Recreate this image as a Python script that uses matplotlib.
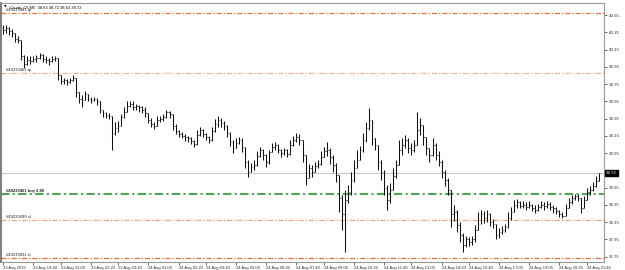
import numpy as np
import matplotlib
matplotlib.use("Agg")
import matplotlib.pyplot as plt

# Crude_Oil M5 bars, open = previous close
close = [
    40.38, 40.40, 40.36, 40.34, 40.27, 40.26, 40.08, 39.98, 40.03, 40.02,
    40.04, 40.05, 40.09, 40.04, 40.03, 40.02, 40.04, 40.05, 39.86, 39.79,
    39.80, 39.77, 39.80, 39.82, 39.66, 39.58, 39.57, 39.64, 39.58, 39.57,
    39.58, 39.55, 39.45, 39.41, 39.39, 39.38, 39.18, 39.24, 39.26, 39.37,
    39.43, 39.50, 39.52, 39.49, 39.50, 39.48, 39.45, 39.42, 39.33, 39.29,
    39.26, 39.33, 39.35, 39.37, 39.43, 39.40, 39.26, 39.21, 39.17, 39.15,
    39.14, 39.12, 39.09, 39.06, 39.16, 39.22, 39.17, 39.14, 39.10, 39.21,
    39.29, 39.33, 39.30, 39.26, 39.18, 39.08, 39.01, 39.07, 39.10, 39.02,
    38.85, 38.73, 38.79, 38.81, 38.92, 38.99, 38.93, 38.85, 38.96, 39.02,
    39.05, 38.99, 38.95, 38.99, 38.94, 39.05, 39.10, 39.14, 39.10, 38.93,
    38.66, 38.78, 38.73, 38.80, 38.83, 38.91, 38.97, 38.99, 38.90, 38.81,
    38.70, 38.43, 38.24, 38.41, 38.50, 38.64, 38.78, 38.87, 38.99, 39.10,
    39.24, 39.33, 39.13, 39.05, 38.85, 38.73, 38.55, 38.41, 38.52, 38.69,
    38.81, 38.99, 39.05, 39.10, 39.01, 38.99, 39.05, 39.22, 39.28, 39.14,
    39.01, 38.93, 39.05, 38.93, 38.85, 38.73, 38.64, 38.52, 38.24, 38.27,
    38.12, 38.00, 37.89, 37.95, 37.92, 37.96, 38.06, 38.18, 38.24, 38.20,
    38.25, 38.15, 38.13, 38.00, 38.04, 38.06, 38.10, 38.20, 38.27, 38.35,
    38.38, 38.34, 38.35, 38.33, 38.35, 38.31, 38.29, 38.33, 38.35, 38.34,
    38.36, 38.33, 38.31, 38.28, 38.25, 38.22, 38.31, 38.38, 38.43, 38.45,
    38.43, 38.31, 38.41, 38.50, 38.52, 38.57, 38.63, 38.72,
]
high = [
    40.43, 40.44, 40.41, 40.39, 40.32, 40.31, 40.26, 40.09, 40.08, 40.07,
    40.08, 40.09, 40.11, 40.10, 40.07, 40.05, 40.07, 40.08, 40.05, 39.85,
    39.82, 39.81, 39.82, 39.85, 39.82, 39.65, 39.62, 39.67, 39.62, 39.60,
    39.60, 39.59, 39.53, 39.45, 39.43, 39.42, 39.37, 39.31, 39.32, 39.40,
    39.48, 39.55, 39.56, 39.56, 39.52, 39.51, 39.50, 39.48, 39.42, 39.36,
    39.31, 39.38, 39.38, 39.40, 39.45, 39.44, 39.40, 39.29, 39.22, 39.20,
    39.17, 39.15, 39.14, 39.10, 39.22, 39.25, 39.23, 39.18, 39.15, 39.25,
    39.35, 39.38, 39.36, 39.32, 39.28, 39.20, 39.10, 39.12, 39.14, 39.12,
    39.02, 38.87, 38.84, 38.87, 38.97, 39.02, 39.00, 38.94, 38.99, 39.07,
    39.08, 39.06, 39.00, 39.01, 39.00, 39.10, 39.15, 39.18, 39.17, 39.10,
    38.93, 38.83, 38.81, 38.85, 38.87, 38.97, 39.02, 39.08, 39.01, 38.93,
    38.84, 38.70, 38.47, 38.52, 38.58, 38.73, 38.87, 38.99, 39.03, 39.18,
    39.31, 39.47, 39.28, 39.13, 39.05, 38.87, 38.76, 38.58, 38.60, 38.78,
    38.87, 39.10, 39.13, 39.16, 39.13, 39.07, 39.10, 39.43, 39.36, 39.24,
    39.10, 39.01, 39.13, 39.07, 38.97, 38.87, 38.76, 38.66, 38.52, 38.35,
    38.29, 38.15, 38.02, 37.99, 37.98, 37.99, 38.12, 38.27, 38.29, 38.28,
    38.29, 38.26, 38.19, 38.13, 38.08, 38.11, 38.13, 38.27, 38.33, 38.41,
    38.42, 38.39, 38.39, 38.38, 38.39, 38.36, 38.35, 38.36, 38.39, 38.38,
    38.40, 38.38, 38.35, 38.33, 38.29, 38.27, 38.36, 38.43, 38.47, 38.48,
    38.48, 38.43, 38.45, 38.55, 38.57, 38.62, 38.68, 38.72,
]
low = [
    40.33, 40.34, 40.32, 40.30, 40.24, 40.23, 40.03, 39.94, 39.97, 39.98,
    40.01, 40.01, 40.04, 40.01, 39.99, 39.97, 40.01, 40.02, 39.80, 39.75,
    39.75, 39.74, 39.76, 39.79, 39.60, 39.53, 39.49, 39.58, 39.55, 39.53,
    39.55, 39.51, 39.42, 39.37, 39.36, 39.35, 38.99, 39.16, 39.19, 39.29,
    39.36, 39.45, 39.48, 39.45, 39.45, 39.43, 39.42, 39.37, 39.30, 39.25,
    39.23, 39.28, 39.31, 39.32, 39.36, 39.36, 39.22, 39.17, 39.14, 39.12,
    39.09, 39.08, 39.06, 39.02, 39.05, 39.15, 39.14, 39.10, 39.07, 39.09,
    39.20, 39.25, 39.25, 39.22, 39.14, 39.03, 38.95, 39.02, 39.06, 38.96,
    38.78, 38.67, 38.73, 38.76, 38.80, 38.90, 38.87, 38.79, 38.83, 38.96,
    38.99, 38.95, 38.91, 38.93, 38.91, 38.93, 39.03, 39.08, 39.05, 38.85,
    38.58, 38.69, 38.67, 38.73, 38.78, 38.81, 38.90, 38.92, 38.83, 38.73,
    38.62, 38.27, 38.06, 37.81, 38.37, 38.47, 38.62, 38.78, 38.87, 38.96,
    39.08, 39.22, 39.05, 38.99, 38.76, 38.64, 38.47, 38.29, 38.37, 38.55,
    38.66, 38.85, 38.93, 39.01, 38.95, 38.93, 38.96, 39.08, 39.16, 39.05,
    38.93, 38.85, 38.92, 38.87, 38.80, 38.66, 38.57, 38.47, 38.10, 38.16,
    38.04, 37.92, 37.81, 37.86, 37.87, 37.89, 37.92, 38.06, 38.13, 38.14,
    38.15, 38.11, 38.08, 37.95, 37.97, 38.01, 38.04, 38.08, 38.18, 38.27,
    38.32, 38.31, 38.31, 38.29, 38.31, 38.28, 38.26, 38.28, 38.31, 38.29,
    38.32, 38.29, 38.26, 38.24, 38.21, 38.20, 38.24, 38.31, 38.36, 38.41,
    38.39, 38.26, 38.31, 38.43, 38.47, 38.51, 38.56, 38.63,
]
first_open = 40.41

# trade levels drawn on the chart
order_levels = [40.57, 39.88, 38.48, 38.17, 37.73]
order_labels = ["#49233931 tp", "#49233461 tp", "#49233461 buy 0.80",
                "#49233699 sl", "#49233831 sl"]
order_colors = ["#f2703c", "#fbb08e", "#4ea64e", "#f9a07c", "#ee6a36"]

price_ticks = [40.55, 40.35, 40.15, 39.95, 39.75, 39.55, 39.35, 39.15,
               38.95, 38.55, 38.35, 38.15, 37.95, 37.75]

time_ticks = [0, 10, 19, 29, 38, 48, 58, 67, 77, 87, 97, 106, 116, 126,
              135, 145, 154, 164, 174, 184, 193]
time_labels = ["23 Aug 2015", "23 Aug 19:40", "23 Aug 21:00", "23 Aug 22:20",
               "23 Aug 23:40", "24 Aug 01:00", "24 Aug 02:20", "24 Aug 03:40",
               "24 Aug 05:00", "24 Aug 06:20", "24 Aug 07:40", "24 Aug 09:00",
               "24 Aug 10:20", "24 Aug 11:40", "24 Aug 13:00", "24 Aug 14:20",
               "24 Aug 15:40", "24 Aug 17:00", "24 Aug 19:05", "24 Aug 20:25",
               "24 Aug 21:45"]

plt.rcParams['font.family'] = ['Liberation Sans', 'DejaVu Sans']

close = np.array(close)
opens = np.concatenate([[first_open], close[:-1]])
high = np.maximum.reduce([np.array(high), opens, close])
low = np.minimum.reduce([np.array(low), opens, close])
x = np.arange(len(close))

fig = plt.figure(figsize=(6.25, 2.7), dpi=100)
ax = fig.add_axes([0.002, 0.030, 0.964, 0.959])

# bars: high-low line, open tick left, close tick right
ax.vlines(x, low, high, color='#111111', lw=0.75)
ax.hlines(opens, x - 0.45, x, color='#333333', lw=0.5)
ax.hlines(close, x, x + 0.45, color='#333333', lw=0.5)

# current bid line
ax.axhline(close[-1], color='#c8c8c8', lw=0.8, zorder=0)

for lvl, lab, col in zip(order_levels, order_labels, order_colors):
    lw = 1.5 if 'buy' in lab else 0.9
    ax.axhline(lvl, color=col, lw=lw, linestyle=(0, (4, 1.6, 1, 1.6)), zorder=1)
    ax.text(1, lvl + 0.012, lab, fontsize=3, color='#202020', va='bottom',
            fontweight='bold' if 'buy' in lab else 'normal')

ax.text(0.004, 0.992, "\u25bc", transform=ax.transAxes, fontsize=2.5,
        va='top', family='DejaVu Sans')
ax.text(0.014, 0.992, "Crude_Oil,M5  38.63 38.72 38.63 38.72",
        transform=ax.transAxes, fontsize=3, va='top')

ax.set_xlim(-0.66, 198.65)
ax.set_ylim(37.69, 40.69)

ax.yaxis.tick_right()
ax.set_yticks(price_ticks)
ax.set_yticklabels([f"{v:.2f}" for v in price_ticks])
ax.tick_params(axis='y', length=2, width=0.5, pad=1.5, labelsize=3.2,
               colors='#303030')

ax.set_xticks(time_ticks)
ax.set_xticklabels(time_labels, ha='left')
ax.tick_params(axis='x', length=2, width=0.5, pad=1, labelsize=3,
               colors='#303030')

# highlighted last price on the scale
ax.text(1.004, close[-1], f"{close[-1]:.2f}", transform=ax.get_yaxis_transform(),
        fontsize=3.2, color='white', va='center', ha='left',
        bbox=dict(facecolor='black', edgecolor='black', pad=0.8))

for s in ['top', 'right', 'bottom']:
    ax.spines[s].set_color('#9a9a9a')
    ax.spines[s].set_linewidth(0.8)
ax.spines['left'].set_color('#808080')
ax.spines['left'].set_linewidth(1.5)

fig.savefig('out.png', dpi=100)
